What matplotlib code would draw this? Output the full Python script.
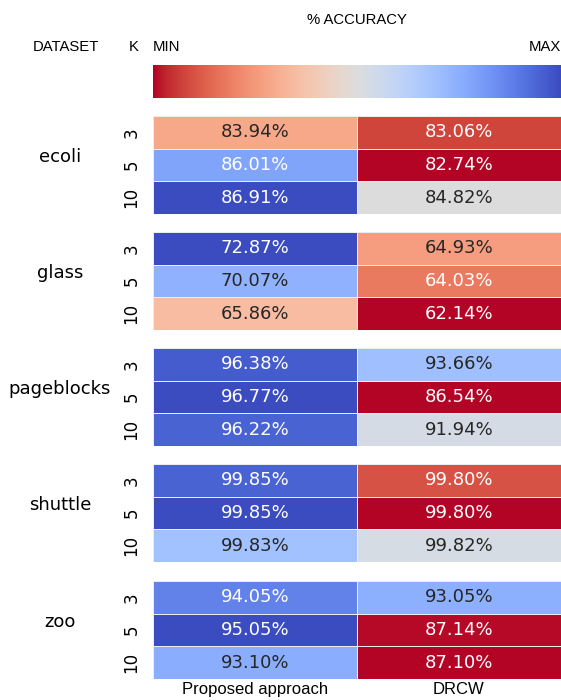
import numpy as np
import matplotlib.pyplot as plt
import seaborn as sns

datasets = ['ecoli', 'glass', 'pageblocks', 'shuttle', 'zoo']
k_values = ['3', '5', '10']
methods = ['Proposed approach', 'DRCW']

# accuracy per dataset, rows are k = 3, 5, 10
proposed = [
    [83.94, 86.01, 86.91],
    [72.87, 70.07, 65.86],
    [96.38, 96.77, 96.22],
    [99.848, 99.851, 99.834],  # shuttle: extra decimal guessed from the colours
    [94.05, 95.05, 93.10],
]
drcw = [
    [83.06, 82.74, 84.82],
    [64.93, 64.03, 62.14],
    [93.66, 86.54, 91.94],
    [99.8015, 99.796, 99.8249],
    [93.05, 87.14, 87.10],
]

W, H = 561, 700
fig = plt.figure(figsize=(W / 100, H / 100), dpi=100)

left = 153
row_tops = [116, 232, 348, 464, 581]
block_h = 98

for i, name in enumerate(datasets):
    vals = np.column_stack([proposed[i], drcw[i]])
    labels = np.vectorize(lambda v: f'{v:.2f}%')(vals)
    top = row_tops[i]
    ax = fig.add_axes([left / W, 1 - (top + block_h) / H, (W - left) / W, block_h / H])
    sns.heatmap(vals, ax=ax, cmap='coolwarm_r', cbar=False, annot=labels, fmt='',
                linewidths=0.7, linecolor='#ececec', annot_kws={'size': 13},
                xticklabels=False, yticklabels=k_values)
    ax.set_yticklabels(k_values, rotation=90, fontsize=12, va='center')
    ax.tick_params(axis='y', length=0, pad=9)
    ax.tick_params(axis='x', length=0)
    fig.text(60 / W, 1 - (top + block_h / 2 - 8) / H, name, ha='center', va='center', fontsize=13)
    if i == len(datasets) - 1:
        ax.set_xticks([0.5, 1.5])
        ax.set_xticklabels(methods, fontsize=12, family='Liberation Sans')
        ax.tick_params(axis='x', pad=2)

# colour scale strip
cax = fig.add_axes([left / W, 1 - 98 / H, (W - left) / W, 33 / H])
cax.imshow(np.linspace(0, 1, 256)[None, :], aspect='auto', cmap='coolwarm_r')
cax.axis('off')

hfont = dict(family='Liberation Sans', fontsize=10.7, va='center')
fig.text(357 / W, 1 - 20 / H, '% ACCURACY', ha='center', **hfont)
fig.text(66 / W, 1 - 47 / H, 'DATASET', ha='center', **hfont)
fig.text(134 / W, 1 - 47 / H, 'K', ha='center', **hfont)
fig.text(153 / W, 1 - 47 / H, 'MIN', ha='left', **hfont)
fig.text(1.0, 1 - 47 / H, 'MAX', ha='right', **hfont)

fig.savefig('out.png', dpi=100)
